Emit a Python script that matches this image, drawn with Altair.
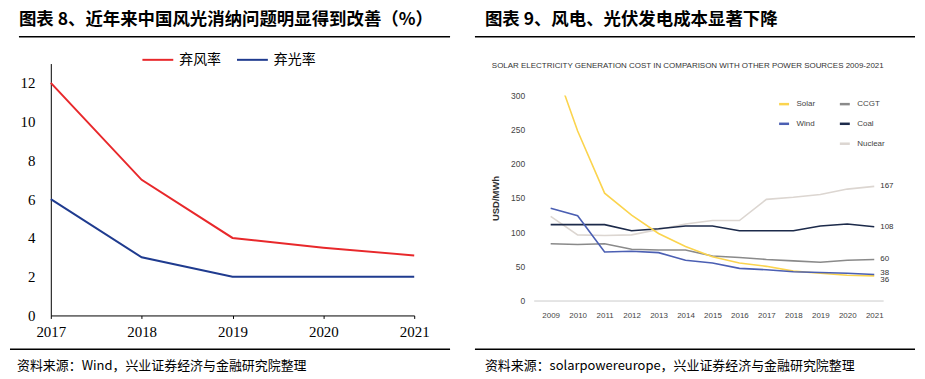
import altair as alt
import pandas as pd

# ---------------- data ----------------
# Left panel: curtailment rates (%)
years_l = [2017, 2018, 2019, 2020, 2021]
wind_curtail = [12, 7, 4, 3.5, 3.1]
solar_curtail = [6, 3, 2, 2, 2]
series_l = ["弃风率", "弃光率"]
colors_l = ["#E8282B", "#1F3B8F"]
yticks_l = [0, 2, 4, 6, 8, 10, 12]

# Right panel: generation cost USD/MWh
years_r = [2009, 2010, 2011, 2012, 2013, 2014, 2015, 2016, 2017, 2018, 2019, 2020, 2021]
cost_solar = [359, 248, 157, 125, 98, 79, 64, 55, 50, 43, 40, 37, 36]
cost_wind = [135, 124, 71, 72, 70, 59, 55, 47, 45, 42, 41, 40, 38]
cost_ccgt = [83, 82, 83, 75, 74, 74, 65, 63, 60, 58, 56, 59, 60]
cost_coal = [111, 111, 111, 102, 105, 109, 109, 102, 102, 102, 109, 112, 108]
cost_nuclear = [123, 96, 95, 96, 104, 112, 117, 117, 148, 151, 155, 163, 167]
legend_order = ["Solar", "Wind", " ", "CCGT", "Coal", "Nuclear"]
legend_colors = ["#FBD44E", "#4B5FB3", "transparent", "#8A8A8A", "#1C2A4A", "#DCD6D1"]
yticks_r = [0, 50, 100, 150, 200, 250, 300]

header_l = "图表 8、近年来中国风光消纳问题明显得到改善（%）"
header_r = "图表 9、风电、光伏发电成本显著下降"
footer_l = "资料来源：Wind，兴业证券经济与金融研究院整理"
footer_r = "资料来源：solarpowereurope，兴业证券经济与金融研究院整理"
title_r = "SOLAR ELECTRICITY GENERATION COST IN COMPARISON WITH OTHER POWER SOURCES 2009-2021"

CJK = "Noto Sans CJK SC"

# ---------------- frames ----------------
df_l = pd.DataFrame({
    "year": years_l * 2,
    "series": [series_l[0]] * len(years_l) + [series_l[1]] * len(years_l),
    "value": wind_curtail + solar_curtail,
})

order_draw = [("Nuclear", cost_nuclear), ("CCGT", cost_ccgt), ("Coal", cost_coal),
              ("Solar", cost_solar), ("Wind", cost_wind)]
rows = []
for name, vals in order_draw:
    for y, v in zip(years_r, vals):
        rows.append({"year": y, "source": name, "cost": v})
df_r = pd.DataFrame(rows)
df_end = df_r[df_r["year"] == years_r[-1]].copy()
df_end["label"] = df_end["cost"].astype(int).astype(str)

one = pd.DataFrame({"k": [0]})


def text_layer(txt, x, y, size, font=CJK, weight="normal", color="black"):
    return alt.Chart(pd.DataFrame({"t": [txt]})).mark_text(
        align="left", baseline="middle", font=font, fontSize=size,
        fontWeight=weight, color=color
    ).encode(x=alt.value(x), y=alt.value(y), text="t:N")


def rule_layer(x1, x2, y, color="black", width=1.5):
    return alt.Chart(one).mark_rule(color=color, strokeWidth=width).encode(
        x=alt.value(x1), x2=alt.value(x2), y=alt.value(y))


# ---------------- left panel ----------------
lines_l = alt.Chart(df_l).mark_line(strokeWidth=2).encode(
    x=alt.X("year:Q",
            scale=alt.Scale(domain=[2017, 2021], nice=False, zero=False),
            axis=alt.Axis(values=years_l, tickCount=20, format="d", grid=False,
                          title=None, domainColor="black", tickColor="black",
                          tickSize=3, labelFont="Liberation Serif", labelFontSize=15,
                          labelColor="black", labelPadding=6, labelFlush=False,
                          labelOverlap=False)),
    y=alt.Y("value:Q",
            scale=alt.Scale(domain=[0, 13], range=[221, -32], nice=False),
            axis=alt.Axis(values=yticks_l, tickCount=20, format="d", grid=False,
                          title=None, ticks=False, domainColor="black",
                          labelFont="Liberation Serif", labelFontSize=15,
                          labelColor="black", labelPadding=16,
                          labelFlush=False, labelOverlap=False)),
    color=alt.Color("series:N",
                    scale=alt.Scale(domain=series_l, range=colors_l),
                    legend=alt.Legend(orient="none", legendX=91, legendY=-52.5,
                                      direction="horizontal", title=None,
                                      symbolType="stroke", symbolSize=961,
                                      symbolStrokeWidth=2, labelFont=CJK,
                                      labelFontSize=14, labelColor="black",
                                      labelOffset=5, columnPadding=12, padding=0)),
)

left = alt.layer(
    rule_layer(0, 5, -86, color="white", width=1),
    text_layer(header_l, -32, -76, 17.5, weight="bold"),
    rule_layer(-32, 401, -59),
    lines_l,
    rule_layer(-41, 401, 255),
    text_layer(footer_l, -34, 272, 13),
).properties(width=365, height=221)

# ---------------- right panel ----------------
x_r = alt.X("year:Q",
            scale=alt.Scale(domain=[2008.37, 2021.33], nice=False, zero=False),
            axis=alt.Axis(values=years_r, tickCount=40, format="d", grid=False,
                          title=None, ticks=False, domainColor="#cccccc",
                          labelFont="Liberation Sans", labelFontSize=8,
                          labelColor="#444444", labelPadding=11, labelFlush=False,
                          labelOverlap=False))
y_r = alt.Y("cost:Q",
            scale=alt.Scale(domain=[0, 300], nice=False),
            axis=alt.Axis(values=yticks_r, tickCount=40, format="d", grid=False,
                          ticks=False, domain=False, labelFont="Liberation Sans",
                          labelFontSize=8.5, labelColor="#444444", labelPadding=9,
                          labelFlush=False, labelOverlap=False,
                          title="USD/MWh", titleFont="Liberation Sans",
                          titleFontSize=9.5, titleFontWeight="bold",
                          titleColor="#333333", titlePadding=10))

lines_r = alt.Chart(df_r).mark_line(strokeWidth=1.6, clip=True).encode(
    x=x_r, y=y_r,
    color=alt.Color("source:N",
                    scale=alt.Scale(domain=legend_order, range=legend_colors),
                    legend=alt.Legend(orient="none", legendX=245, legendY=2,
                                      columns=2, title=None, symbolType="stroke",
                                      symbolSize=100, symbolStrokeWidth=2.5,
                                      labelFont="Liberation Sans", labelFontSize=8,
                                      labelColor="#444444", labelOffset=6,
                                      columnPadding=19, rowPadding=8, padding=0)),
)

lab_main = alt.Chart(df_end).mark_text(
    align="left", baseline="middle", dx=6, fontSize=8,
    font="Liberation Sans", color="#333333"
).transform_filter(
    alt.FieldOneOfPredicate(field="source", oneOf=["Nuclear", "Coal", "CCGT"])
).encode(x="year:Q", y="cost:Q", text="label:N")
lab_wind = alt.Chart(df_end).mark_text(
    align="left", baseline="middle", dx=6, dy=-2, fontSize=8,
    font="Liberation Sans", color="#333333"
).transform_filter(alt.datum.source == "Wind").encode(x="year:Q", y="cost:Q", text="label:N")
lab_solar = alt.Chart(df_end).mark_text(
    align="left", baseline="middle", dx=6, dy=4, fontSize=8,
    font="Liberation Sans", color="#333333"
).transform_filter(alt.datum.source == "Solar").encode(x="year:Q", y="cost:Q", text="label:N")

right = alt.layer(
    text_layer(header_r, -49, -76, 17.5, weight="bold"),
    rule_layer(-59, 383, -59),
    text_layer(title_r, -42, -30, 8, font="Liberation Sans", color="#333333"),
    lines_r,
    lab_main, lab_wind, lab_solar,
    rule_layer(-59, 383, 255),
    text_layer(footer_r, -49, 272, 13),
).properties(width=351, height=206)

chart = alt.hconcat(left, right, spacing=21).resolve_scale(
    color="independent", x="independent", y="independent"
).resolve_legend(color="independent").properties(
    padding=0, background="white"
).configure_view(stroke="transparent")

chart.save("out.html", embed_options={"renderer": "svg", "actions": False})
